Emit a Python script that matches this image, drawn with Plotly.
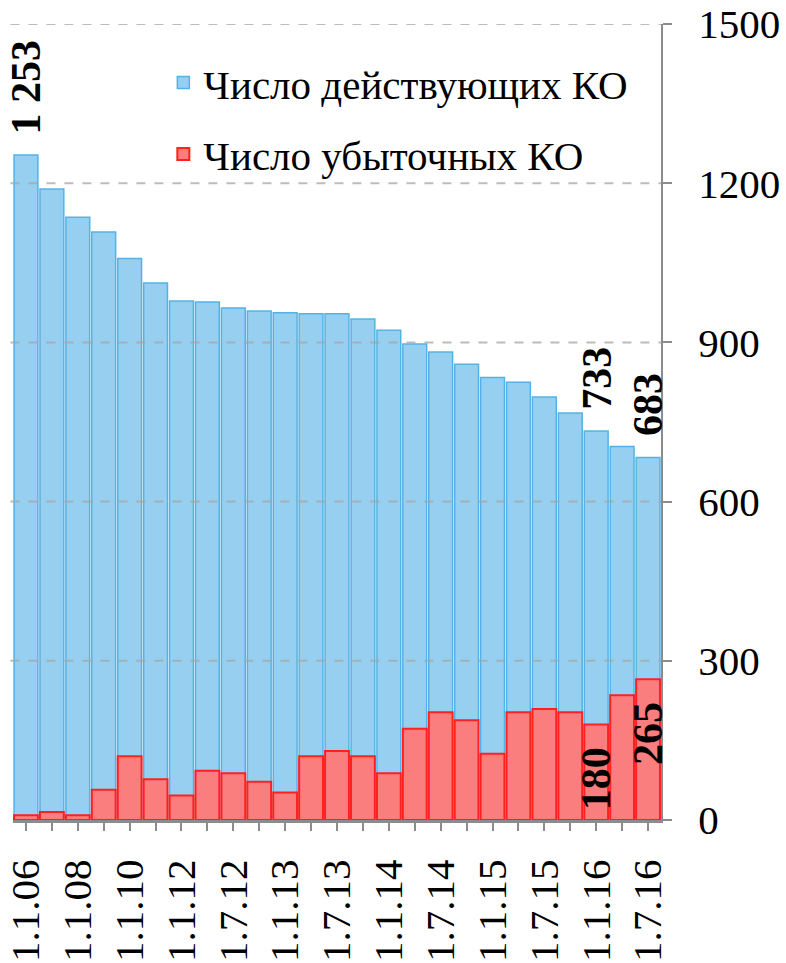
import plotly.graph_objects as go

categories = ["1.1.06", "1.1.07", "1.1.08", "1.1.09", "1.1.10", "1.1.11", "1.1.12",
              "1.4.12", "1.7.12", "1.10.12", "1.1.13", "1.4.13", "1.7.13", "1.10.13",
              "1.1.14", "1.4.14", "1.7.14", "1.10.14", "1.1.15", "1.4.15", "1.7.15",
              "1.10.15", "1.1.16", "1.4.16", "1.7.16"]
active = [1253, 1189, 1136, 1108, 1058, 1012, 978, 976, 965, 959, 956, 954, 954, 944,
          923, 897, 882, 859, 834, 825, 797, 767, 733, 704, 683]
loss = [9, 15, 9, 57, 120, 77, 46, 93, 88, 72, 52, 120, 130, 120, 88, 172, 203, 188,
        125, 203, 209, 203, 180, 235, 265]
active_labels = ["1 253"] + [""] * 21 + ["733", "", "683"]
loss_labels = [""] * 22 + ["180", "", "265"]
tick_text = [c if i % 2 == 0 else "" for i, c in enumerate(categories)]
y_ticks = [0, 300, 600, 900, 1200, 1500]

SERIF = "Liberation Serif"

fig = go.Figure()
fig.add_trace(go.Bar(
    x=categories, y=active, name="Число действующих КО",
    marker=dict(color="#96cff0", line=dict(color="#55b2e6", width=1.5)),
    legendgroup="a",
))
fig.add_trace(go.Bar(
    x=categories, y=loss, name="Число убыточных КО",
    marker=dict(color="#fa7e7e", line=dict(color="#ff2020", width=2)),
    legendgroup="b",
))

annotations = []
for cat, val, lab in zip(categories, active, active_labels):
    if lab:
        annotations.append(dict(x=cat, y=val, text=lab, textangle=-90, showarrow=False,
                                xanchor="center", yanchor="bottom", yshift=19,
                                font=dict(family=SERIF, size=42, color="black", weight="bold")))
for cat, val, lab in zip(categories, loss, loss_labels):
    if lab:
        annotations.append(dict(x=cat, y=val, text=lab, textangle=-90, showarrow=False,
                                xanchor="center", yanchor="top", yshift=-21,
                                font=dict(family=SERIF, size=42, color="black", weight="bold")))

shapes = []
for t in y_ticks[1:]:
    shapes.append(dict(type="line", xref="paper", yref="y", x0=-0.004, x1=1, y0=t, y1=t,
                       layer="above", line=dict(color="rgba(165,165,165,0.75)", width=2, dash="dash")))

fig.update_layout(
    width=786, height=963,
    barmode="overlay", bargap=0.08,
    plot_bgcolor="white", paper_bgcolor="white",
    margin=dict(l=13, r=125, t=24, b=143, autoexpand=False),
    font=dict(family=SERIF, color="black"),
    showlegend=True,
    legend=dict(x=0.232, y=0.968, xanchor="left", yanchor="top",
                font=dict(family=SERIF, size=41, color="black"),
                bgcolor="rgba(0,0,0,0)", tracegroupgap=15, itemwidth=30),
    annotations=annotations,
    shapes=shapes,
    xaxis=dict(
        type="category", tickmode="array", tickvals=categories, ticktext=tick_text,
        tickangle=-90, tickfont=dict(family=SERIF, size=41, color="black"),
        showline=True, linecolor="#8c8c8c", linewidth=3,
        ticks="outside", ticklen=8, tickwidth=2, tickcolor="#8c8c8c",
        ticklabelstandoff=12, showgrid=False, range=[-0.5, 24.5], automargin=False,
    ),
    yaxis=dict(
        side="right", range=[0, 1500], tickvals=y_ticks,
        tickfont=dict(family=SERIF, size=41, color="black"),
        showline=True, linecolor="#8c8c8c", linewidth=2,
        ticks="outside", ticklen=9, tickwidth=2, tickcolor="#8c8c8c",
        ticklabelstandoff=18, showgrid=False, zeroline=False, automargin=False,
    ),
)

fig.write_html("out.html", config={"displayModeBar": False},
               post_script="document.body.style.margin='0';")
